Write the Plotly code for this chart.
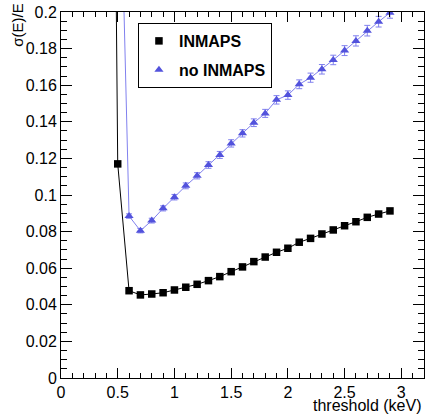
import plotly.graph_objects as go

# Data
x_inmaps = [0.4, 0.5, 0.6, 0.7, 0.8, 0.9, 1.0, 1.1, 1.2, 1.3, 1.4, 1.5, 1.6, 1.7, 1.8, 1.9,
            2.0, 2.1, 2.2, 2.3, 2.4, 2.5, 2.6, 2.7, 2.8, 2.9]
y_inmaps = [0.80, 0.117, 0.0477, 0.0454, 0.0459, 0.0466, 0.0481, 0.0496, 0.0512, 0.0532, 0.0554,
            0.0581, 0.0607, 0.0636, 0.0661, 0.0687, 0.0709, 0.0742, 0.0763, 0.0787, 0.0809,
            0.0832, 0.0854, 0.0878, 0.0896, 0.0913]

x_noinmaps = [0.5, 0.6, 0.7, 0.8, 0.9, 1.0, 1.1, 1.2, 1.3, 1.4, 1.5, 1.6, 1.7, 1.8, 1.9,
              2.0, 2.1, 2.2, 2.3, 2.4, 2.5, 2.6, 2.7, 2.8, 2.9]
y_noinmaps = [0.34, 0.0885, 0.0805, 0.0860, 0.0927, 0.0988, 0.1050, 0.1105, 0.1164, 0.1219,
              0.1282, 0.1337, 0.1395, 0.1446, 0.1520, 0.1546, 0.1605, 0.1641, 0.1687, 0.1738,
              0.1789, 0.1842, 0.1898, 0.1947, 0.1996]
err_noinmaps = [0.005, 0.0012, 0.0012, 0.0013, 0.0014, 0.0015, 0.0016, 0.0017, 0.0018, 0.0019,
                0.0020, 0.0020, 0.0021, 0.0022, 0.0023, 0.0023, 0.0024, 0.0025, 0.0026, 0.0026,
                0.0027, 0.0028, 0.0029, 0.0029, 0.0030]

series_names = ["INMAPS", "no INMAPS"]
x_title = "threshold (keV)"
y_title = "σ(E)/E"

FONT = "Liberation Sans, Arial, Helvetica, sans-serif"
BLUE_M = "#5252dc"
BLUE_L = "#8080ee"

fig = go.Figure()

# lines (no legend)
fig.add_trace(go.Scatter(x=x_inmaps, y=y_inmaps, mode="lines",
                         line=dict(color="black", width=1), showlegend=False, hoverinfo="skip"))
fig.add_trace(go.Scatter(x=x_noinmaps, y=y_noinmaps, mode="lines",
                         line=dict(color=BLUE_L, width=1), showlegend=False, hoverinfo="skip"))

# markers
fig.add_trace(go.Scatter(x=x_inmaps, y=y_inmaps, mode="markers", name=series_names[0],
                         legendgroup="a",
                         marker=dict(symbol="square", size=7.5, color="black"),
                         cliponaxis=True))
fig.add_trace(go.Scatter(x=x_noinmaps, y=y_noinmaps, mode="markers", name=series_names[1],
                         legendgroup="b",
                         marker=dict(symbol="triangle-up", size=8, color=BLUE_M),
                         error_y=dict(type="data", array=err_noinmaps, color=BLUE_L,
                                      thickness=1, width=3),
                         cliponaxis=True))

axis_common = dict(
    showline=True, linecolor="black", linewidth=1, mirror="allticks",
    ticks="inside", tickcolor="black", tickwidth=1, showgrid=False, zeroline=False,
    tickfont=dict(family=FONT, size=16, color="black"),
)

fig.update_xaxes(range=[0, 3.2], dtick=0.5, tick0=0, ticklen=10,
                 minor=dict(dtick=0.1, ticklen=5, ticks="inside", tickcolor="black", showgrid=False),
                 **axis_common)
fig.update_yaxes(range=[0, 0.2], dtick=0.02, tick0=0, ticklen=11,
                 minor=dict(dtick=0.005, ticklen=6, ticks="inside", tickcolor="black", showgrid=False),
                 **axis_common)

fig.update_layout(
    width=425, height=416,
    margin=dict(l=61, r=1, t=12, b=38, pad=0),
    paper_bgcolor="white", plot_bgcolor="white",
    font=dict(family=FONT, size=16, color="black"),
    legend=dict(x=0.212, y=0.970, xanchor="left", yanchor="top",
                bgcolor="white", bordercolor="black", borderwidth=1,
                font=dict(family=FONT, size=16, color="black", weight="bold"),
                tracegroupgap=5, itemwidth=30),
    annotations=[
        dict(text=x_title, xref="paper", yref="paper", x=1.0, y=-0.075,
             xanchor="right", yanchor="middle", showarrow=False,
             font=dict(family=FONT, size=16, color="black")),
        dict(text=y_title, xref="paper", yref="paper", x=-0.12, y=1.028,
             xanchor="center", yanchor="top", textangle=-90, showarrow=False,
             font=dict(family=FONT, size=15, color="black")),
    ],
)

fig.write_html("out.html",
               config={"displayModeBar": False},
               post_script="document.body.style.margin='0';document.body.style.padding='0';")
